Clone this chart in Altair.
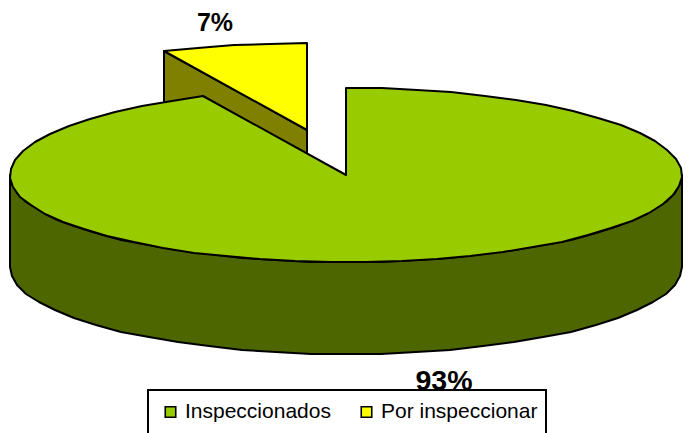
import math
import altair as alt

# Chart data
series = ["Inspeccionados", "Por inspeccionar"]
shares = [93, 7]
labels = ["93%", "7%"]
top_colors = ["#99CC00", "#FFFF00"]
side_colors = ["#4D6600", "#808000"]

# Pie projection (chart-area pixels)
CX, CY, RX, RY, DEPTH = 338, 167, 336, 87, 92
EXPLODE_X, EXPLODE_Y = -39, -45
STEP = 6


def pt(deg, dx=0, dy=0):
    a = math.radians(deg)
    return [round(CX + RX * math.sin(a) + dx), round(CY - RY * math.cos(a) + dy)]


def arc(start, end, dx=0, dy=0):
    n = max(2, int(abs(end - start) / STEP))
    return [pt(start + (end - start) * i / n, dx, dy) for i in range(n + 1)]


def feature(ring, series_name=None, side=None):
    ring = ring + [ring[0]]
    return {
        "type": "Feature",
        "geometry": {"type": "Polygon", "coordinates": [ring]},
        "properties": {"series": series_name, "side": side},
    }


split = shares[0] / sum(shares) * 360
apex = [CX + EXPLODE_X, CY + EXPLODE_Y]
arc_end = pt(split, EXPLODE_X, EXPLODE_Y)

small_side = feature(
    [apex, arc_end, [arc_end[0], arc_end[1] + DEPTH], [apex[0], apex[1] + DEPTH]],
    side=side_colors[1],
)
small_top = feature([apex] + arc(split, 360, EXPLODE_X, EXPLODE_Y), series[1])
front = arc(90, 270)
big_side = feature(front + arc(270, 90, 0, DEPTH), side=side_colors[0])
big_top = feature([[CX, CY]] + arc(0, split), series[0])

fill_top = alt.Fill(
    "properties.series:N",
    scale=alt.Scale(domain=series, range=top_colors),
    legend=alt.Legend(
        title=None,
        orient="none",
        legendX=140,
        legendY=382,
        direction="horizontal",
        columns=2,
        symbolType="square",
        symbolSize=110,
        symbolStrokeColor="black",
        symbolStrokeWidth=1.6,
        symbolOffset=4,
        labelFont="Liberation Sans",
        labelFontSize=21,
        labelColor="black",
        labelLimit=300,
        labelOffset=4,
        columnPadding=21,
        padding=8,
        clipHeight=28,
        strokeColor="black",
        fillColor="white",
    ),
)
fill_side = alt.Fill("properties.side:N", scale=None, legend=None)


def shape(feat, fill):
    return (
        alt.Chart(alt.Data(values=[feat]))
        .mark_geoshape(stroke="black", strokeWidth=2, strokeJoin="round")
        .encode(fill=fill)
        .project(type="identity", scale=1, translate=[0, 0])
    )


def label(text, x, y, size):
    return (
        alt.Chart(alt.Data(values=[{"t": text}]))
        .mark_text(
            font="Liberation Sans", fontSize=size, fontWeight="bold", color="black",
            align="center", baseline="alphabetic",
        )
        .encode(text="t:N", x=alt.value(x), y=alt.value(y))
    )


chart = (
    alt.layer(
        shape(small_side, fill_side),
        shape(small_top, fill_top),
        shape(big_side, fill_side),
        shape(big_top, fill_top),
        label(labels[1], 207, 23, 25),
        label(labels[0], 436, 382, 28.5),
    )
    .resolve_scale(fill="independent")
    .properties(
        width=676,
        height=425,
        padding=0,
        autosize=alt.AutoSizeParams(type="none"),
    )
    .configure_view(stroke=None)
    .configure_legend(strokeWidth=2)
)

chart.save("out.html", embed_options={"renderer": "svg", "actions": False})
